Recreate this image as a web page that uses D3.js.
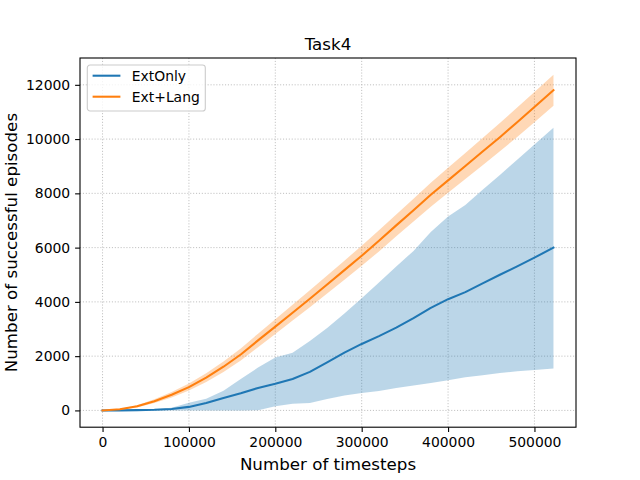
<!DOCTYPE html>
<html>
<head>
<meta charset="utf-8">
<script src="https://cdn.jsdelivr.net/npm/d3@7.9.0/dist/d3.min.js"></script>
<style>
  body { margin: 0; background: #fff; }
  text { font-family: "DejaVu Sans", sans-serif; fill: #000; }
</style>
</head>
<body>
<svg id="chart" width="640" height="480"></svg>
<script>
// timesteps shared by both runs
const timesteps = [0, 20000, 40000, 60000, 80000, 100000, 120000, 140000, 160000, 180000,
  200000, 220000, 240000, 260000, 280000, 300000, 320000, 340000, 360000, 380000,
  400000, 420000, 440000, 460000, 480000, 500000, 522000];

// ExtOnly: mean and band
const extOnlyMean = [0, 3, 10, 25, 55, 130, 270, 460, 630, 830,
  980, 1160, 1420, 1770, 2130, 2450, 2740, 3050, 3400, 3780,
  4100, 4360, 4680, 5000, 5310, 5630, 6000];
const extOnlyLow = [0, 0, 0, 0, 0, 0, 0, 0, 0, 10,
  150, 250, 270, 420, 550, 640, 720, 830, 920, 1010,
  1110, 1220, 1300, 1380, 1440, 1490, 1546];
const extOnlyHigh = [0, 5, 15, 40, 100, 280, 430, 725, 1160, 1580,
  1950, 2130, 2560, 3040, 3570, 4130, 4710, 5300, 5880, 6580,
  7150, 7570, 8130, 8680, 9240, 9800, 10420];

// Ext+Lang: mean and band
const extLangMean = [0, 40, 150, 340, 580, 860, 1210, 1610, 2060, 2580,
  3090, 3600, 4115, 4640, 5170, 5700, 6250, 6820, 7380, 7950,
  8480, 9010, 9540, 10070, 10620, 11180, 11800];
const extLangLow = [0, 25, 110, 270, 480, 730, 1050, 1420, 1840, 2330,
  2820, 3310, 3805, 4310, 4820, 5330, 5860, 6420, 6960, 7510,
  8020, 8530, 9040, 9550, 10080, 10625, 11230];
const extLangHigh = [0, 55, 190, 410, 680, 990, 1370, 1800, 2280, 2830,
  3360, 3890, 4425, 4970, 5520, 6070, 6640, 7220, 7800, 8390,
  8940, 9490, 10040, 10590, 11160, 11735, 12370];

const xTicks = [0, 100000, 200000, 300000, 400000, 500000];
const yTicks = [0, 2000, 4000, 6000, 8000, 10000, 12000];

const seriesNames = ["ExtOnly", "Ext+Lang"];
const colors = ["#1f77b4", "#ff7f0e"];

const series = [
  { name: seriesNames[0], color: colors[0], mean: extOnlyMean, low: extOnlyLow, high: extOnlyHigh },
  { name: seriesNames[1], color: colors[1], mean: extLangMean, low: extLangLow, high: extLangHigh }
];

const plotLeft = 80, plotRight = 576, plotTop = 58, plotBottom = 427.2;
const svg = d3.select("#chart");

// matplotlib-style 5% margins
function padded(lo, hi) {
  const r = hi - lo;
  return [lo - 0.05 * r, hi + 0.05 * r];
}
const xExt = d3.extent(timesteps);
const yExt = [d3.min(series, s => d3.min(s.low)), d3.max(series, s => d3.max(s.high))];

const x = d3.scaleLinear().domain(padded(xExt[0], xExt[1])).range([plotLeft, plotRight]);
const y = d3.scaleLinear().domain(padded(yExt[0], yExt[1])).range([plotBottom, plotTop]);

// grid
const grid = svg.append("g").attr("stroke", "#b0b0b0").attr("stroke-width", 0.8)
  .attr("stroke-dasharray", "1.1,1.8");
grid.selectAll("line.gx").data(xTicks).enter().append("line")
  .attr("x1", d => x(d)).attr("x2", d => x(d)).attr("y1", plotTop).attr("y2", plotBottom);
grid.selectAll("line.gy").data(yTicks).enter().append("line")
  .attr("x1", plotLeft).attr("x2", plotRight).attr("y1", d => y(d)).attr("y2", d => y(d));

// bands
const area = (s) => d3.area()
  .x((d, i) => x(timesteps[i]))
  .y0((d, i) => y(s.low[i]))
  .y1((d, i) => y(s.high[i]));

series.forEach(s => {
  svg.append("path")
    .attr("d", area(s)(timesteps))
    .attr("fill", s.color)
    .attr("fill-opacity", 0.3);
});

// mean lines
series.forEach(s => {
  const line = d3.line().x((d, i) => x(timesteps[i])).y(d => y(d));
  svg.append("path")
    .attr("d", line(s.mean))
    .attr("fill", "none")
    .attr("stroke", s.color)
    .attr("stroke-width", 2.08)
    .attr("stroke-linejoin", "round")
    .attr("stroke-linecap", "square");
});

// axes
const fmt = d3.format("d");
const xAxis = svg.append("g").attr("transform", `translate(0,${plotBottom})`)
  .call(d3.axisBottom(x).tickValues(xTicks).tickFormat(fmt).tickSizeInner(4.9).tickSizeOuter(0).tickPadding(4.9));
const yAxis = svg.append("g").attr("transform", `translate(${plotLeft},0)`)
  .call(d3.axisLeft(y).tickValues(yTicks).tickFormat(fmt).tickSizeInner(4.9).tickSizeOuter(0).tickPadding(4.9));

[xAxis, yAxis].forEach(a => {
  a.select(".domain").remove();
  a.selectAll(".tick line").attr("stroke", "#000").attr("stroke-width", 1.1);
  a.selectAll(".tick text").attr("font-family", "DejaVu Sans").attr("font-size", "13.9px").attr("fill", "#000");
});

// spines
svg.append("rect")
  .attr("x", plotLeft).attr("y", plotTop)
  .attr("width", plotRight - plotLeft).attr("height", plotBottom - plotTop)
  .attr("fill", "none").attr("stroke", "#000").attr("stroke-width", 1.1);

// title and labels
svg.append("text").attr("x", (plotLeft + plotRight) / 2).attr("y", 49.7)
  .attr("text-anchor", "middle").attr("font-size", "16.7px").text("Task4");
svg.append("text").attr("x", (plotLeft + plotRight) / 2).attr("y", 469.5)
  .attr("text-anchor", "middle").attr("font-size", "16.7px").text("Number of timesteps");
svg.append("text")
  .attr("transform", `translate(17,${(plotTop + plotBottom) / 2}) rotate(-90)`)
  .attr("text-anchor", "middle").attr("font-size", "16.7px")
  .text("Number of successful episodes");

// legend
const legend = svg.append("g").attr("transform", "translate(87.3,65)");
legend.append("rect")
  .attr("width", 118).attr("height", 46).attr("rx", 2.8).attr("ry", 2.8)
  .attr("fill", "#fff").attr("fill-opacity", 0.8)
  .attr("stroke", "#cccccc").attr("stroke-width", 1.1);

series.forEach((s, i) => {
  const cy = 10.7 + i * 21;
  legend.append("line")
    .attr("x1", 5.3).attr("x2", 33.1).attr("y1", cy).attr("y2", cy)
    .attr("stroke", s.color).attr("stroke-width", 2.08);
  legend.append("text")
    .attr("x", 44.5).attr("y", cy).attr("dy", "0.36em")
    .attr("font-size", "13.9px").text(s.name);
});
</script>
</body>
</html>
